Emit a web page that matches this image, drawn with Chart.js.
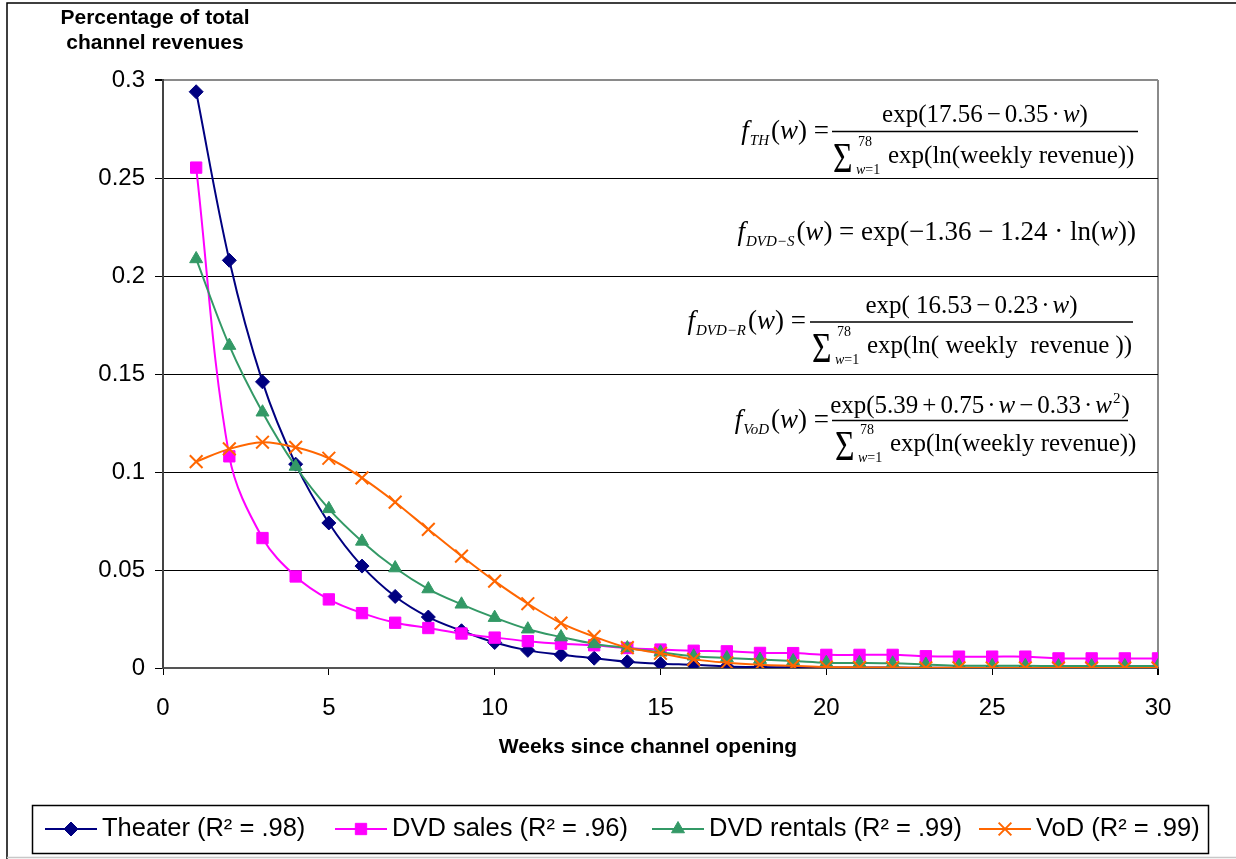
<!DOCTYPE html>
<html><head><meta charset="utf-8">
<script src="https://cdn.jsdelivr.net/npm/chart.js@4.4.0/dist/chart.umd.min.js"></script>
<style>html,body{margin:0;padding:0;background:#fff}#wrap{width:1236px;height:859px;position:relative}</style>
</head><body><div id="wrap"><canvas id="c" width="1236" height="859"></canvas></div>
<script>
// ---- data ----
const weeks = [1,2,3,4,5,6,7,8,9,10,11,12,13,14,15,16,17,18,19,20,21,22,23,24,25,26,27,28,29,30];
const theater = [0.294,0.208,0.146,0.104,0.074,0.052,0.0365,0.026,0.019,0.013,0.009,0.0068,0.005,0.0032,0.0022,0.0016,0.0008,0.0005,0.0004,0.0003,0.0002,0.0002,0.0001,0.0001,0.0001,0.0001,0,0,0,0];
const dvdSales = [0.2553,0.108,0.0663,0.0467,0.035,0.028,0.0231,0.0204,0.0176,0.0155,0.0137,0.0124,0.0116,0.0102,0.0094,0.0088,0.0085,0.0077,0.0076,0.0067,0.0067,0.0067,0.006,0.0058,0.0058,0.0058,0.0049,0.0049,0.0049,0.0049];
const dvdRentals = [0.2087,0.1645,0.1305,0.1028,0.0812,0.0646,0.051,0.0403,0.0325,0.0257,0.0198,0.0158,0.0123,0.0102,0.008,0.006,0.0051,0.0043,0.0036,0.0027,0.0026,0.0024,0.0018,0.0012,0.0011,0.0011,0.001,0.001,0.001,0.001];
const vod = [0.1053,0.1118,0.1152,0.1126,0.107,0.097,0.0846,0.0707,0.0571,0.0443,0.0328,0.0229,0.016,0.0104,0.0075,0.0044,0.0027,0.0017,0.0011,0.0005,0.0003,0.0002,0.0001,0.0001,0,0,0,0,0,0];
const seriesNames = ['Theater (R\u00B2 = .98)','DVD sales (R\u00B2 = .96)','DVD rentals (R\u00B2 = .99)','VoD (R\u00B2 = .99)'];
const xTitle = 'Weeks since channel opening';
const yTitleLines = ['Percentage of total','channel revenues'];

const SANS = '"Liberation Sans", Arial, sans-serif';
const SERIF = '"Liberation Serif", "Times New Roman", serif';

const styles = [
  {color:'#000080', pointStyle:'rectRot', radius:7, bw:1, order:4},
  {color:'#FF00FF', pointStyle:'rect', radius:8, bw:1, order:3},
  {color:'#339966', pointStyle:'triangle', radius:7.5, bw:1, order:2},
  {color:'#FF6600', pointStyle:'crossRot', radius:9, bw:2, order:1}
];
const seriesData = [theater, dvdSales, dvdRentals, vod];

const datasets = seriesData.map((arr, i) => ({
  label: seriesNames[i],
  data: weeks.map((w, k) => ({x: w, y: arr[k]})),
  borderColor: styles[i].color,
  backgroundColor: styles[i].color,
  pointBackgroundColor: styles[i].color,
  pointBorderColor: styles[i].color,
  pointStyle: styles[i].pointStyle,
  pointRadius: styles[i].radius,
  pointBorderWidth: styles[i].bw,
  borderWidth: 2,
  tension: 0.35,
  order: styles[i].order
}));

function drawRuns(ctx, x, y, runs) {
  for (const r of runs) {
    ctx.font = r.f;
    ctx.fillText(r.t, x, y + (r.dy || 0));
    x += ctx.measureText(r.t).width + (r.sp || 0);
  }
  return x;
}
function runsWidth(ctx, runs) {
  let w = 0;
  for (const r of runs) { ctx.font = r.f; w += ctx.measureText(r.t).width + (r.sp || 0); }
  return w;
}

const R25 = '25px ' + SERIF, I25 = 'italic 25px ' + SERIF;
const R27 = '27px ' + SERIF, I27 = 'italic 27px ' + SERIF;
const SUB = 'italic 15px ' + SERIF;
const S14 = '14px ' + SERIF, I14 = 'italic 14px ' + SERIF;

// math-run builders (operators with tight spacing)
const N = (t, sp) => ({t, f:R25, sp: sp || 0});
const V = (t, sp) => ({t, f:I25, sp: sp || 0});
const OP = (t) => ({t, f:R25, sp:4});

function lhs(sub) {
  return [{t:'f', f:I27, sp:1}, {t:sub, f:SUB, dy:6, sp:2}, {t:'(', f:R27}, {t:'w', f:I27}, {t:') =', f:R27}];
}
function denom(ctx, S, base, text) {
  ctx.save();
  ctx.font = '42px ' + SERIF;
  ctx.translate(S, base + 9);
  ctx.scale(0.8, 1);
  ctx.fillText('\u03A3', 0, 0);
  ctx.restore();
  ctx.font = S14; ctx.fillText('78', S + 25, base - 17);
  drawRuns(ctx, S + 23, base + 11, [{t:'w', f:I14}, {t:'=1', f:S14}]);
  ctx.font = R25; ctx.fillText(text, S + 55, base);
}
function fraction(ctx, x1, x2, barY, numRuns, numBase, S, denBase, denText) {
  const w = runsWidth(ctx, numRuns);
  drawRuns(ctx, (x1 + x2) / 2 - w / 2, numBase, numRuns);
  ctx.fillRect(x1, barY - 0.75, x2 - x1, 1.5);
  denom(ctx, S, denBase, denText);
}

const decor = {
  id: 'decor',
  afterDraw(chart) {
    const ctx = chart.ctx;
    ctx.save();
    ctx.fillStyle = '#000';
    ctx.textBaseline = 'alphabetic';
    // outer frame
    ctx.strokeStyle = '#000'; ctx.lineWidth = 1.5;
    ctx.beginPath(); ctx.moveTo(7, 859); ctx.lineTo(7, 3); ctx.lineTo(1236, 3); ctx.stroke();
    ctx.strokeStyle = '#c8c8c8'; ctx.lineWidth = 1.5;
    ctx.beginPath(); ctx.moveTo(7, 857.5); ctx.lineTo(1236, 857.5); ctx.stroke();
    // y title
    ctx.font = 'bold 21px ' + SANS; ctx.textAlign = 'center';
    ctx.fillText(yTitleLines[0], 155, 24);
    ctx.fillText(yTitleLines[1], 155, 49);
    // x title
    ctx.fillText(xTitle, 648, 753);
    ctx.textAlign = 'left';
    // formulas
    // TH
    let r = lhs('TH'); drawRuns(ctx, 829 - runsWidth(ctx, r), 139, r);
    fraction(ctx, 832, 1138, 131.5,
      [N('exp(17.56', 4), OP('\u2212'), N('0.35', 3), N('\u00B7', 3), V('w'), N(')')], 122,
      833, 163, 'exp(ln(weekly revenue))');
    // DVD-S
    r = lhs('DVD\u2212S').concat([{t:' exp(\u22121.36 \u2212 1.24 \u00B7 ln(', f:R27}, {t:'w', f:I27}, {t:'))', f:R27}]);
    drawRuns(ctx, 1136 - runsWidth(ctx, r), 240, r);
    // DVD-R
    r = lhs('DVD\u2212R'); drawRuns(ctx, 806 - runsWidth(ctx, r), 329, r);
    fraction(ctx, 810, 1133, 322,
      [N('exp( 16.53', 4), OP('\u2212'), N('0.23', 3), N('\u00B7', 3), V('w'), N(')')], 313,
      812, 353, 'exp(ln( weekly  revenue ))');
    // VoD
    r = lhs('VoD'); drawRuns(ctx, 829 - runsWidth(ctx, r), 428, r);
    fraction(ctx, 832, 1128, 420.5,
      [N('exp(5.39', 4), OP('+'), N('0.75', 3), N('\u00B7', 3), V('w', 4), OP('\u2212'), N('0.33', 3), N('\u00B7', 3), V('w', 1), {t:'2', f:'15px ' + SERIF, dy:-10, sp:1}, N(')')], 413,
      835, 451, 'exp(ln(weekly revenue))');
    // legend
    ctx.strokeStyle = '#000'; ctx.lineWidth = 1.5;
    ctx.strokeRect(32.5, 805.5, 1176, 48);
    const lx = [45, 335, 652, 979];
    const ly = 829;
    chart.data.datasets.forEach((ds, i) => {
      const st = styles[i];
      ctx.strokeStyle = st.color; ctx.fillStyle = st.color; ctx.lineWidth = 2;
      ctx.beginPath(); ctx.moveTo(lx[i], ly); ctx.lineTo(lx[i] + 52, ly); ctx.stroke();
      ctx.lineWidth = st.bw;
      Chart.helpers.drawPoint(ctx, {pointStyle: st.pointStyle, radius: st.radius, rotation: 0, borderWidth: st.bw}, lx[i] + 26, ly);
      ctx.fillStyle = '#000';
      ctx.font = '25.5px ' + SANS; ctx.textBaseline = 'middle';
      ctx.fillText(ds.label, lx[i] + 57, ly);
      ctx.textBaseline = 'alphabetic';
    });
    ctx.restore();
  }
};

new Chart(document.getElementById('c'), {
  type: 'line',
  data: { datasets },
  options: {
    responsive: false,
    animation: false,
    layout: { padding: { left: 0, top: 80, right: 78, bottom: 0 } },
    plugins: { legend: { display: false }, tooltip: { enabled: false } },
    scales: {
      x: {
        type: 'linear', min: 0, max: 30,
        ticks: { stepSize: 5, color: '#000', font: { family: SANS, size: 24 }, padding: 19, maxRotation: 0 },
        grid: {
          drawOnChartArea: true,
          color: c => (c.tick && c.tick.value === 30) ? '#8a8a8a' : 'rgba(0,0,0,0)',
          lineWidth: c => (c.tick && c.tick.value === 30) ? 2 : 1,
          tickColor: '#000', tickLength: 7
        },
        border: { color: '#555', width: 2 },
        afterFit: s => { s.height = 191; }
      },
      y: {
        min: 0, max: 0.3,
        ticks: { stepSize: 0.05, color: '#000', font: { family: SANS, size: 24 }, padding: 10,
          callback: v => String(Math.round(v * 100) / 100) },
        grid: {
          color: c => (c.tick && c.tick.value > 0.299) ? '#8a8a8a' : '#000',
          lineWidth: c => (c.tick && c.tick.value > 0.299) ? 2 : 1,
          tickColor: '#000', tickLength: 8
        },
        border: { color: '#444', width: 2 },
        afterFit: s => { s.width = 163; }
      }
    }
  },
  plugins: [decor]
});
</script>
</body></html>
